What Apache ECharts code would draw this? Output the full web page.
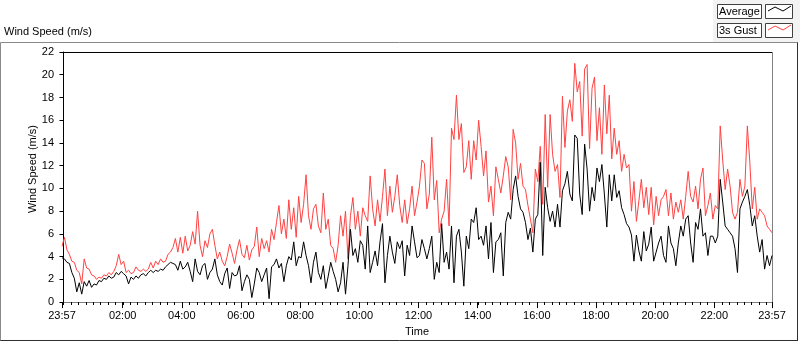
<!DOCTYPE html>
<html>
<head>
<meta charset="utf-8">
<script src="https://cdn.jsdelivr.net/npm/echarts@6/dist/echarts.min.js"></script>
<style>
  html, body { margin: 0; padding: 0; background: #ffffff; }
  #chart { width: 800px; height: 342px; }
</style>
</head>
<body>
<div id="chart"></div>
<script>
// samples every 5 minutes, first one at 23:57 (minute -3 of the day)
var startMinute = -3;
var stepMinutes = 5;

// 3s gust, m/s
var gustSpeed = [
  4.9,5.7,4.6,4.2,3.6,3.5,2.8,2.6,1.6,3.8,
  3.0,2.9,2.4,2.3,2.0,2.2,2.1,2.4,2.3,2.6,
  2.4,2.7,3.2,4.2,3.3,3.6,2.6,2.8,2.5,2.6,
  3.1,2.8,2.7,2.9,2.7,2.9,3.5,3.0,3.6,3.3,
  3.8,3.5,3.6,4.2,4.4,4.8,5.6,4.4,5.7,
  4.3,5.8,4.5,5.0,6.2,5.1,8.0,5.0,4.0,5.4,
  4.8,6.0,6.4,5.0,3.8,4.4,3.6,3.2,4.0,5.1,
  4.3,3.4,4.6,5.5,4.2,3.9,5.0,3.7,4.6,4.9,
  6.6,4.0,5.6,4.7,5.4,4.4,6.4,5.5,7.0,8.5,
  6.0,7.3,5.6,9.0,6.4,8.3,5.7,9.3,
  7.0,8.6,11.2,7.6,6.4,8.2,8.6,6.7,6.1,9.6,
  6.4,7.3,5.0,4.7,3.5,5.0,7.6,5.8,8.0,3.8,
  7.6,9.2,6.4,8.0,5.8,8.3,7.6,7.1,11.1,8.2,
  6.7,9.0,7.1,9.3,11.7,7.6,10.2,7.9,9.3,11.2,
  8.5,7.0,9.0,6.9,8.2,10.2,7.6,8.8,
  10.2,12.5,12.2,8.2,9.5,14.5,9.0,10.7,6.1,7.3,
  8.0,10.8,6.7,15.3,14.3,18.2,14.3,15.7,11.4,11.9,
  14.2,10.8,14.2,12.5,16.0,13.7,11.1,13.3,8.8,10.2,
  7.6,11.9,10.8,9.6,11.1,12.8,11.9,9.0,15.2,14.0,
  10.8,12.2,10.2,9.9,8.5,7.3,6.1,11.7,
  10.6,13.7,8.6,16.5,10.1,16.5,13.0,11.5,12.1,9.2,
  18.1,13.6,16.8,17.8,15.9,21.0,18.5,19.4,14.6,20.5,
  20.9,13.5,18.8,19.8,14.2,17.1,13.0,19.1,14.8,18.2,
  12.6,15.3,13.0,14.2,11.5,13.0,11.8,12.1,8.0,10.6,
  7.1,8.9,10.8,8.3,10.1,7.7,10.1,6.8,
  9.3,7.6,9.0,9.3,9.9,7.6,9.6,7.3,8.8,7.9,
  9.0,7.3,9.3,11.5,9.3,8.8,10.2,8.2,10.8,11.8,
  7.6,8.5,9.6,7.3,8.5,8.2,15.5,12.5,9.9,11.7,
  10.2,7.9,7.3,7.9,10.8,9.3,10.2,15.5,12.3,8.2,
  10.1,7.3,8.2,7.9,7.6,6.7,6.4,6.1
];

// average, m/s
var avgSpeed = [
  3.9,3.8,3.5,3.4,2.6,2.1,0.9,1.7,0.7,1.8,
  1.4,1.9,1.3,1.6,1.5,1.9,1.8,2.1,2.0,2.3,
  2.1,2.2,2.6,2.4,2.7,2.5,2.3,1.6,2.2,2.0,
  2.3,2.1,2.4,2.5,2.3,2.6,2.8,2.6,2.8,2.7,
  2.9,2.8,3.1,3.3,3.5,3.4,3.3,2.8,3.6,
  2.9,3.1,3.5,2.7,1.8,3.8,2.7,2.4,3.2,3.4,
  2.0,2.6,2.9,3.8,2.4,1.8,1.5,2.5,3.0,1.2,
  2.6,2.3,2.4,3.2,1.0,1.8,2.4,2.0,0.4,1.6,
  3.0,2.6,1.8,2.4,3.0,0.3,3.1,3.3,3.8,3.0,
  3.4,1.8,3.2,4.0,3.7,5.3,3.2,4.0,
  3.9,5.3,4.1,3.2,1.7,3.5,4.4,2.6,2.0,3.2,
  1.2,2.3,3.5,2.7,2.0,0.9,1.7,3.5,0.7,3.2,
  6.4,4.1,4.7,3.5,5.4,5.0,2.9,6.7,2.6,3.5,
  4.5,3.2,5.3,6.9,1.7,4.1,5.8,4.4,3.4,5.3,
  4.7,5.4,2.3,5.0,4.1,6.7,5.3,3.9,
  4.1,5.5,4.7,3.8,4.7,5.8,2.0,3.5,2.6,6.9,
  3.5,4.4,2.9,6.7,1.7,5.8,6.4,4.4,1.4,5.8,
  4.7,7.3,7.0,8.3,5.5,5.8,5.0,6.7,3.8,7.0,
  2.6,5.3,5.5,6.1,2.3,7.0,7.9,7.3,9.9,11.1,
  9.3,8.2,7.9,7.0,5.5,6.5,4.4,7.3,
  7.7,12.3,4.1,10.1,8.3,7.1,8.0,6.6,8.6,6.6,
  9.8,10.4,11.5,9.5,8.9,14.7,14.4,9.5,7.7,13.9,
  11.7,8.0,10.1,8.9,11.8,10.6,12.1,9.5,6.6,11.2,
  8.9,11.2,9.2,9.8,8.3,7.7,6.9,6.6,5.9,3.6,
  5.9,4.5,3.6,6.2,4.5,5.1,6.6,3.6,
  4.4,5.2,5.8,4.1,3.5,6.7,5.2,4.7,3.2,5.2,
  6.7,5.8,7.3,7.6,5.2,3.5,7.0,6.4,8.2,5.8,
  6.1,4.1,5.8,5.8,5.2,5.8,10.8,8.8,6.7,6.4,
  6.1,5.8,4.7,2.6,8.2,8.8,9.3,9.9,8.5,6.7,
  7.6,5.8,4.4,5.5,2.9,4.1,3.2,4.1
];

// x axis labels (minutes of the day) and their text
var labelMinutes = [-3, 120, 240, 360, 480, 600, 720, 840, 960, 1080, 1200, 1320, 1437];
var labelTexts = ['23:57', '02:00', '04:00', '06:00', '08:00', '10:00', '12:00',
  '14:00', '16:00', '18:00', '20:00', '22:00', '23:57'];
var minorTickMinutes = [];
for (var m = 0; m <= 1425; m += 15) minorTickMinutes.push(m);

function toPairs(values) {
  return values.map(function (v, i) { return [startMinute + i * stepMinutes, v]; });
}

var font = 'Liberation Sans';
var chart = echarts.init(document.getElementById('chart'), null, { renderer: 'canvas' });

var option = {
  backgroundColor: '#ffffff',
  animation: false,
  grid: { left: 62, top: 52, right: 28, bottom: 39, show: false },
  xAxis: {
    type: 'value',
    min: -3,
    max: 1437,
    name: 'Time',
    nameLocation: 'middle',
    nameGap: 22,
    nameTextStyle: { fontFamily: font, fontSize: 11, color: '#000' },
    axisLine: { show: true, lineStyle: { color: '#808080', width: 1 } },
    axisTick: { show: true, customValues: labelMinutes, length: 6, lineStyle: { color: '#000' } },
    axisLabel: {
      customValues: labelMinutes,
      margin: 8,
      fontFamily: font, fontSize: 11, color: '#000',
      formatter: function (v) {
        var k = labelMinutes.indexOf(v);
        return k >= 0 ? labelTexts[k] : '';
      }
    },
    splitLine: { show: false }
  },
  yAxis: {
    type: 'value',
    min: 0,
    max: 22,
    interval: 2,
    name: 'Wind Speed (m/s)',
    nameLocation: 'middle',
    nameGap: 24,
    nameMoveOverlap: false,
    nameTextStyle: { fontFamily: font, fontSize: 11, color: '#000', padding: [0, 0, 0, 16] },
    axisLine: { show: true, lineStyle: { color: '#000', width: 1 } },
    axisTick: { show: true, length: 4, lineStyle: { color: '#000' } },
    axisLabel: { margin: 8, fontFamily: font, fontSize: 11, color: '#000' },
    splitLine: { show: false }
  },
  series: [{
    name: '3s Gust',
    type: 'line',
    data: toPairs(gustSpeed),
    showSymbol: false,
    symbol: 'none',
    lineStyle: { color: '#ff4242', width: 1 },
    itemStyle: { color: '#ff4242' },
    z: 2
  }, {
    name: 'Average',
    type: 'line',
    data: toPairs(avgSpeed),
    showSymbol: false,
    symbol: 'none',
    lineStyle: { color: '#000000', width: 1 },
    itemStyle: { color: '#000000' },
    z: 3
  }, {
    // 15 minute minor ticks under the time axis
    name: 'minorTicks',
    type: 'custom',
    silent: true,
    clip: false,
    data: minorTickMinutes.map(function (v) { return [v, 0]; }),
    renderItem: function (params, api) {
      var p = api.coord([api.value(0), api.value(1)]);
      var x = Math.round(p[0]) + 0.5;
      var y = Math.round(p[1]);
      return {
        type: 'line',
        shape: { x1: x, y1: y, x2: x, y2: y + 3 },
        style: { stroke: '#000', lineWidth: 1 }
      };
    },
    z: 4
  }],
  graphic: [
    // legend panel
    { type: 'rect', shape: { x: 713, y: 0, width: 87, height: 42 }, style: { fill: '#f3f3f3' }, z: 0 },
    // outer frame
    { type: 'line', shape: { x1: 0.5, y1: 42.5, x2: 798, y2: 42.5 }, style: { stroke: '#8a8a8a', lineWidth: 1 } },
    { type: 'line', shape: { x1: 0.5, y1: 42.5, x2: 0.5, y2: 341 }, style: { stroke: '#8a8a8a', lineWidth: 1 } },
    { type: 'line', shape: { x1: 797.5, y1: 42.5, x2: 797.5, y2: 341 }, style: { stroke: '#303030', lineWidth: 1 } },
    { type: 'line', shape: { x1: 0.5, y1: 340.5, x2: 798, y2: 340.5 }, style: { stroke: '#303030', lineWidth: 1 } },
    // plot frame top and right
    { type: 'line', shape: { x1: 62, y1: 52.5, x2: 772, y2: 52.5 }, style: { stroke: '#000', lineWidth: 1 } },
    { type: 'line', shape: { x1: 772.5, y1: 52, x2: 772.5, y2: 303 }, style: { stroke: '#808080', lineWidth: 1 } },
    // chart caption
    { type: 'text', x: 4, y: 32, style: { text: 'Wind Speed (m/s)', font: '11px "Liberation Sans"', fill: '#000', verticalAlign: 'middle' } },
    // legend: Average
    { type: 'rect', shape: { x: 717.5, y: 4.5, width: 44, height: 14 }, style: { fill: '#fff', stroke: '#404040', lineWidth: 1 }, z: 1 },
    { type: 'text', x: 719, y: 12, style: { text: 'Average', font: '11px "Liberation Sans"', fill: '#000', verticalAlign: 'middle' }, z: 2 },
    { type: 'rect', shape: { x: 765.5, y: 4.5, width: 27, height: 14 }, style: { fill: '#fff', stroke: '#404040', lineWidth: 1 }, z: 1 },
    { type: 'polyline', shape: { points: [[768, 11], [775, 7], [783, 11], [791, 6]] }, style: { stroke: '#000', lineWidth: 1, fill: null }, z: 2 },
    // legend: 3s Gust
    { type: 'rect', shape: { x: 717.5, y: 23.5, width: 44, height: 14 }, style: { fill: '#fff', stroke: '#404040', lineWidth: 1 }, z: 1 },
    { type: 'text', x: 719, y: 31, style: { text: '3s Gust', font: '11px "Liberation Sans"', fill: '#000', verticalAlign: 'middle' }, z: 2 },
    { type: 'rect', shape: { x: 765.5, y: 23.5, width: 27, height: 14 }, style: { fill: '#fff', stroke: '#404040', lineWidth: 1 }, z: 1 },
    { type: 'polyline', shape: { points: [[768, 30], [775, 26], [783, 30], [791, 25]] }, style: { stroke: '#ff4242', lineWidth: 1, fill: null }, z: 2 }
  ]
};

chart.setOption(option);
</script>
</body>
</html>
